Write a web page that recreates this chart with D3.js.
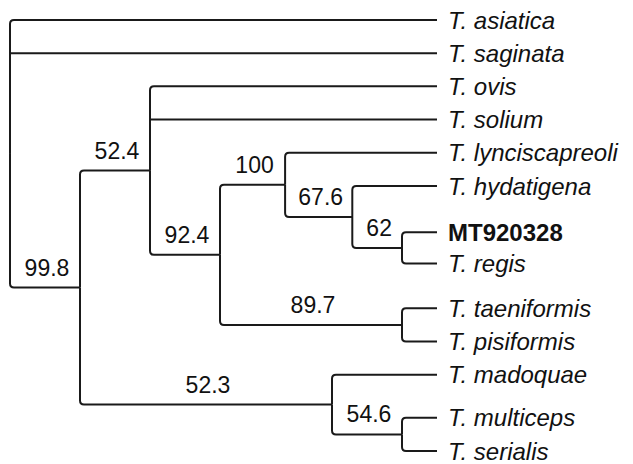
<!DOCTYPE html>
<html>
<head>
<meta charset="utf-8">
<style>
    body { margin: 0; background: #fff; }
    .tip {
        font-family: "Liberation Sans", Arial, Helvetica, sans-serif;
        font-size: 24px;
        font-style: italic;
        fill: #111;
    }
    .tip.query { font-style: normal; font-weight: bold; }
    .support {
        font-family: "Liberation Sans", Arial, Helvetica, sans-serif;
        font-size: 23px;
        fill: #111;
    }
</style>
</head>
<body>
<svg width="633" height="464"></svg>

<script src="https://d3js.org/d3.v7.min.js"></script>
<script>
    // tips, top to bottom, with the clade each one hangs from
    let tips = ["T. asiatica", "T. saginata", "T. ovis", "T. solium", "T. lynciscapreoli",
        "T. hydatigena", "MT920328", "T. regis", "T. taeniformis", "T. pisiformis",
        "T. madoquae", "T. multiceps", "T. serialis"];
    let tipParent = ["root", "root", "c2", "c2", "c4", "c5", "c6", "c6", "c7", "c7", "c8", "c9", "c9"];
    // vertical gap before each tip (in rows)
    let tipGap = [0, 1, 1, 1, 1, 1, 1.4, 0.94, 1.35, 1, 1, 1.3, 1];
    let queryTip = "MT920328";

    // internal nodes
    let clades = ["root", "c1", "c2", "c3", "c4", "c5", "c6", "c7", "c8", "c9"];
    let cladeParent = ["", "root", "c1", "c2", "c3", "c4", "c5", "c3", "c1", "c8"];
    let cladeBranch = [0, 1, 1, 1, 0.93, 0.96, 0.71, 2.6, 3.6, 1.0];
    let cladeSupport = [null, 99.8, 52.4, 92.4, 100, 67.6, 62, 89.7, 52.3, 54.6];
    let tipDepth = 6.1;

    let rows = [];
    clades.forEach((id, i) => rows.push({ id: id, parent: cladeParent[i] || null, branch: cladeBranch[i], support: cladeSupport[i] }));
    let acc = 0;
    tips.forEach((name, i) => {
        acc += tipGap[i];
        rows.push({ id: name, parent: tipParent[i], row: acc });
    });

    let root = d3.stratify()
        .id(d => d.id)
        .parentId(d => d.parent)(rows);

    let x = d3.scaleLinear().domain([0, tipDepth]).range([10, 437]);
    let y = d3.scaleLinear().domain([0, d3.sum(tipGap)]).range([20, 451]);

    // depth along the tree
    root.eachBefore(d => {
        if (!d.children) d.dist = tipDepth;
        else d.dist = (d.parent ? d.parent.dist : 0) + d.data.branch;
    });
    root.eachAfter(d => {
        d.px = x(d.dist);
        if (!d.children) {
            d.py = y(d.data.row);
        } else {
            d.children.sort((a, b) => a.py - b.py);
            d.py = (d.children[0].py + d.children[d.children.length - 1].py) / 2;
        }
    });

    let svg = d3.select("svg");

    function elbow(l) {
        let p = l.source, c = l.target;
        let kids = p.children;
        let end = c === kids[0] || c === kids[kids.length - 1];
        if (!end) return `M${p.px},${p.py}V${c.py}H${c.px}`;
        let s = Math.sign(c.py - p.py), r = 4;
        return `M${p.px},${p.py}V${c.py - s * r}Q${p.px},${c.py} ${p.px + r},${c.py}H${c.px}`;
    }

    svg.selectAll(".link")
        .data(root.links())
        .join("path")
        .attr("class", "link")
        .attr("d", elbow)
        .style("fill", "none")
        .style("stroke", "#1a1a1a")
        .style("stroke-width", 2)

    svg.selectAll(".tip")
        .data(root.leaves())
        .join("text")
        .attr("class", d => d.id === queryTip ? "tip query" : "tip")
        .attr("x", d => d.px + 11)
        .attr("y", d => d.py)
        .attr("dy", "0.36em")
        .text(d => d.id)

    svg.selectAll(".support")
        .data(root.descendants().filter(d => d.data.support != null))
        .join("text")
        .attr("class", "support")
        .attr("text-anchor", "middle")
        .attr("x", d => (d.parent.px + d.px) / 2 + 2)
        .attr("y", d => d.py - 12)
        .text(d => d.data.support)
</script>
</body>
</html>
